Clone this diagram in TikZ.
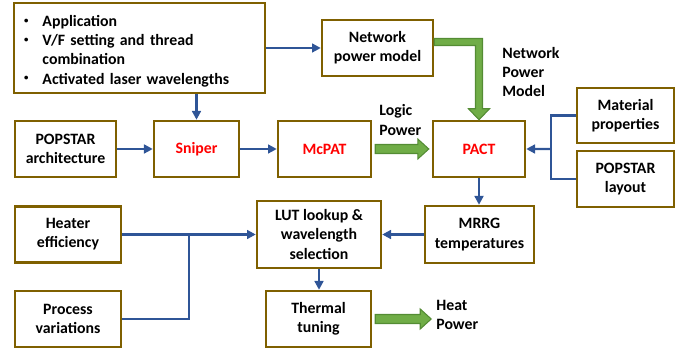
\documentclass[tikz,border=0pt]{standalone}
\usepackage{fontspec}
\setmainfont{Carlito}
\usepackage{tikz}
\usetikzlibrary{calc,arrows.meta,positioning}
\definecolor{boxBrown}{RGB}{127,96,0}
\definecolor{flowBlue}{RGB}{47,85,151}
\definecolor{powGreen}{RGB}{112,173,71}
\definecolor{powGreenDark}{RGB}{84,140,52}
\definecolor{toolRed}{RGB}{255,0,0}

\tikzset{
  blk/.style={draw=boxBrown, line width=1.4pt, align=center, inner sep=2pt,
    font=\fontsize{9}{10.9}\selectfont\bfseries},
  tool/.style={blk, text=toolRed},
  flow/.style={draw=flowBlue, line width=1.25pt, -{Triangle[length=5pt,width=5pt]}},
  wire/.style={draw=flowBlue, line width=1.25pt},
  fat/.style={fill=powGreen, draw=powGreenDark, line width=0.6pt, line join=miter},
  lbl/.style={anchor=west, align=left, inner sep=0pt, font=\fontsize{9}{10.9}\selectfont\bfseries}
}
\newcommand{\blt}{\raisebox{0.4ex}{\tiny\textbullet}}

\begin{document}
\begin{tikzpicture}[x=0.02cm, y=-0.02cm]
\useasboundingbox (0,0) rectangle (688,354);

% inputs on top
\node[blk, align=left, text width=4.62cm, inner xsep=0.2cm, minimum height=1.8cm] (setup) at (139.5,48)
  {\raisebox{-0.07cm}[\height][\depth]{\begin{tabular}{@{}l@{\hspace{8pt}}l@{}}
   \blt & Application\\
   \blt & V/F setting and thread\\
        & combination\\
   \blt & Activated laser wavelengths
   \end{tabular}}};
\node[blk, minimum width=2.22cm, minimum height=1.12cm] (netmodel) at (377.5,48) {Network\\power model};

% simulation chain
\node[blk, minimum width=2.02cm, minimum height=1.12cm] (archi) at (65.5,149) {POPSTAR\\architecture};
\node[tool, minimum width=1.7cm, minimum height=1.12cm] (sniper) at (196.5,149) {Sniper};
\node[tool, minimum width=1.86cm, minimum height=1.12cm] (mcpat) at (324.5,149) {McPAT};
\node[tool, minimum width=1.84cm, minimum height=1.12cm] (pact) at (479,149) {PACT};
\node[blk, minimum width=1.94cm, minimum height=1.1cm] (material) at (625.5,115.5) {Material\\properties};
\node[blk, minimum width=1.94cm, minimum height=1.12cm] (layout) at (625.5,179) {POPSTAR\\layout};

% tuning part
\node[blk, minimum width=2.18cm, minimum height=1.14cm] (mrrg) at (479.5,234.5) {MRRG\\temperatures};
\node[blk, minimum width=2.48cm, minimum height=1.34cm] (lut) at (319,234.5) {LUT lookup \&\\wavelength\\selection};
\node[blk, minimum width=2.12cm, minimum height=1.12cm] (heater) at (68,234.5) {Heater\\efficiency};
\node[blk, minimum width=2.12cm, minimum height=1.12cm] (process) at (68,319) {Process\\variations};
\node[blk, minimum width=2.1cm, minimum height=1.12cm] (thermal) at (318.5,319) {Thermal\\tuning};

% blue connectors
\draw[flow] (setup.east) -- (netmodel.west);
\draw[flow] (setup.south -| sniper.north) -- (sniper.north);
\draw[flow] (archi) -- (sniper);
\draw[flow] (sniper) -- (mcpat);
\coordinate (mj) at ($(pact.east)!0.5!(material.west |- pact.east)$);
\draw[wire] (material.west) -- (material.west -| mj) -- (layout.west -| mj) -- (layout.west);
\draw[flow] (mj) -- (pact.east);
\draw[flow] (pact.south) -- (pact.south |- mrrg.north);
\draw[flow] (mrrg.west) -- (lut.east);
\coordinate (pj) at ($(heater.east)!0.5!(lut.west)$);
\draw[flow] (heater.east) -- (lut.west);
\draw[wire] (process.east) -| (pj);
\draw[flow] (lut.south) -- (lut.south |- thermal.north);

% green power arrows
\coordinate (nb) at ($(netmodel.east)+(0,-6)$);
\coordinate (nt) at (pact.north);
\coordinate (nc) at (nb -| nt);
\filldraw[fat] ($(nb)+(0,-3.5)$) -- ($(nc)+(3.5,-3.5)$) -- ($(nt)+(3.5,-11)$) -- ($(nt)+(10.5,-11)$)
  -- (nt) -- ($(nt)+(-10.5,-11)$) -- ($(nt)+(-3.5,-11)$) -- ($(nc)+(-3.5,3.5)$) -- ($(nb)+(0,3.5)$) -- cycle;

\coordinate (ls) at ($(mcpat.east)+(3,0)$);
\coordinate (lt) at ($(pact.west)+(-3,0)$);
\filldraw[fat] ($(ls)+(0,-4.5)$) -- ($(lt)+(-11,-4.5)$) -- ($(lt)+(-11,-10)$) -- (lt)
  -- ($(lt)+(-11,10)$) -- ($(lt)+(-11,4.5)$) -- ($(ls)+(0,4.5)$) -- cycle;

\coordinate (hs) at ($(thermal.east)+(3,0)$);
\coordinate (ht) at ($(thermal.east)+(59,0)$);
\filldraw[fat] ($(hs)+(0,-4.5)$) -- ($(ht)+(-11,-4.5)$) -- ($(ht)+(-11,-10)$) -- (ht)
  -- ($(ht)+(-11,10)$) -- ($(ht)+(-11,4.5)$) -- ($(hs)+(0,4.5)$) -- cycle;

% labels of the power flows
\node[lbl] (netlbl) at (502,72) {Network\\Power\\Model};
\node[lbl] (logiclbl) at (379,120) {Logic\\Power};
\node[lbl] (heatlbl) at (436,315) {Heat\\Power};
\end{tikzpicture}
\end{document}
